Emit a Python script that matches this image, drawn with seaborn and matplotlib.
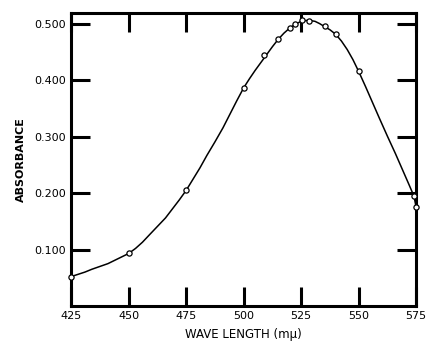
import matplotlib
matplotlib.use("Agg")
import matplotlib.pyplot as plt
import seaborn as sns
import pandas as pd

# medidos (circulos)
wl_pts = [425, 450, 475, 500, 509, 515, 520, 522.5, 525.5, 528.5, 535.5, 540, 550, 574, 575]
abs_pts = [0.052, 0.093, 0.205, 0.387, 0.446, 0.473, 0.493, 0.501, 0.507, 0.506, 0.496, 0.482, 0.416, 0.195, 0.175]

# curva
wl_curve = [425, 428, 431, 434, 437.5, 441, 444, 447, 450, 453, 456, 459, 462.5, 466, 469, 472,
            475, 478, 481, 484, 487.5, 491, 494, 497, 500, 502.5, 505, 507.5, 510, 512.5,
            515, 517.5, 520, 522.5, 525, 528, 531, 533, 535, 537.5, 540, 542.5, 545, 547.5,
            550, 553, 556, 559, 562.5, 566, 569, 572, 574, 575]
abs_curve = [0.052, 0.056, 0.060, 0.065, 0.070, 0.075, 0.081, 0.087, 0.093, 0.102, 0.113, 0.126,
             0.141, 0.156, 0.172, 0.188, 0.205, 0.225, 0.245, 0.267, 0.291, 0.316, 0.340, 0.364,
             0.387, 0.403, 0.418, 0.432, 0.446, 0.460, 0.473, 0.484, 0.493, 0.500, 0.505, 0.507,
             0.505, 0.501, 0.496, 0.490, 0.482, 0.470, 0.455, 0.437, 0.416, 0.389, 0.361, 0.333,
             0.301, 0.270, 0.242, 0.214, 0.195, 0.175]

x_ticks = [425, 450, 475, 500, 525, 550, 575]
y_ticks = [0.1, 0.2, 0.3, 0.4, 0.5]
y_labels = ['0.100', '0.200', '0.300', '0.400', '0.500']

sns.set_style("ticks")
plt.rcParams['font.family'] = ['DejaVu Sans']

curva = pd.DataFrame({'wl': wl_curve, 'abs': abs_curve})
pontos = pd.DataFrame({'wl': wl_pts, 'abs': abs_pts})

fig = plt.figure(figsize=(4.26, 3.48), dpi=100)
ax = fig.add_axes([0.167, 0.121, 0.81, 0.842])

sns.lineplot(data=curva, x='wl', y='abs', ax=ax, color='black', linewidth=1.1, sort=False)
sns.scatterplot(data=pontos, x='wl', y='abs', ax=ax, marker='o', s=14,
                facecolor='white', edgecolor='black', linewidth=0.9, zorder=5, clip_on=False)

ax.set_xlim(425, 575)
ax.set_ylim(0, 0.52)
ax.set_xticks(x_ticks)
ax.set_yticks(y_ticks)
ax.set_yticklabels(y_labels)

for s in ax.spines.values():
    s.set_visible(True)
    s.set_linewidth(2.2)
    s.set_color('black')
ax.tick_params(direction='in', length=14, width=2.2, color='black', top=True, right=True,
               labelsize=8, pad=4, labelcolor='black')

ax.set_xlabel('WAVE LENGTH (mμ)', fontsize=8.5, labelpad=5, color='black')
ax.set_ylabel('ABSORBANCE', fontsize=8, fontweight='bold', labelpad=6, color='black')

plt.savefig('out.png', dpi=100)
